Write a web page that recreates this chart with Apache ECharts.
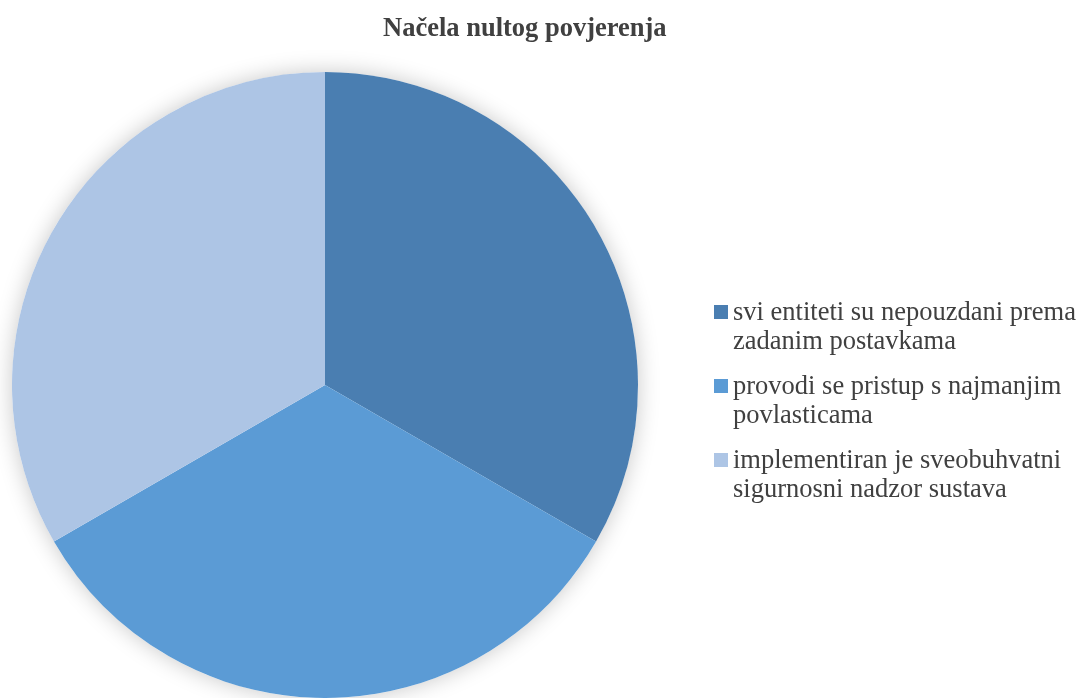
<!DOCTYPE html>
<html>
<head>
<meta charset="utf-8">
<script src="https://cdn.jsdelivr.net/npm/echarts@6/dist/echarts.min.js"></script>
<style>
html,body{margin:0;padding:0;background:#ffffff;}
#chart{width:1085px;height:698px;}
</style>
</head>
<body>
<div id="chart"></div>
<script>
const chartTitle = 'Načela nultog povjerenja';
const categories = [
  'svi entiteti su nepouzdani prema zadanim postavkama',
  'provodi se pristup s najmanjim povlasticama',
  'implementiran je sveobuhvatni sigurnosni nadzor sustava'
];
const legendLabels = [
  'svi entiteti su nepouzdani prema\nzadanim postavkama',
  'provodi se pristup s najmanjim\npovlasticama',
  'implementiran je sveobuhvatni\nsigurnosni nadzor sustava'
];
const values = [1, 1, 1];
const colors = ['#4A7EB1', '#5B9BD5', '#ADC5E5'];

const chart = echarts.init(document.getElementById('chart'), null, {renderer: 'canvas'});
const FONT = '"Liberation Serif", "Times New Roman", serif';

chart.setOption({
  backgroundColor: '#ffffff',
  animation: false,
  title: {
    text: chartTitle,
    left: 383,
    top: 16,
    padding: 0,
    textStyle: {fontFamily: FONT, fontSize: 26.5, fontWeight: 'bold', color: '#404040'}
  },
  legend: {
    orient: 'vertical',
    left: 714,
    top: 298.5,
    padding: 0,
    itemWidth: 14,
    itemHeight: 58,
    itemGap: 16,
    data: categories,
    icon: 'path://M0,0L0.001,0L0,0.001Z M0,6.5L14,6.5L14,20.5L0,20.5Z M0,58L0.001,58L0,57.999Z',
    formatter: function (name) { return legendLabels[categories.indexOf(name)]; },
    textStyle: {fontFamily: FONT, fontSize: 26.5, color: '#404040', lineHeight: 29}
  },
  series: [
    {
      type: 'pie',
      silent: true,
      center: [325, 385],
      radius: 313,
      label: {show: false},
      labelLine: {show: false},
      itemStyle: {color: '#ffffff', shadowBlur: 22, shadowColor: 'rgba(0,0,0,0.22)'},
      data: [{value: 1, name: '__shadow'}],
      z: 1
    },
    {
      type: 'pie',
      center: [325, 385],
      radius: 313,
      startAngle: 90,
      clockwise: true,
      label: {show: false},
      labelLine: {show: false},
      itemStyle: {borderWidth: 0},
      data: categories.map((c, i) => ({name: c, value: values[i], itemStyle: {color: colors[i]}})),
      z: 2
    }
  ]
});
</script>
</body>
</html>
